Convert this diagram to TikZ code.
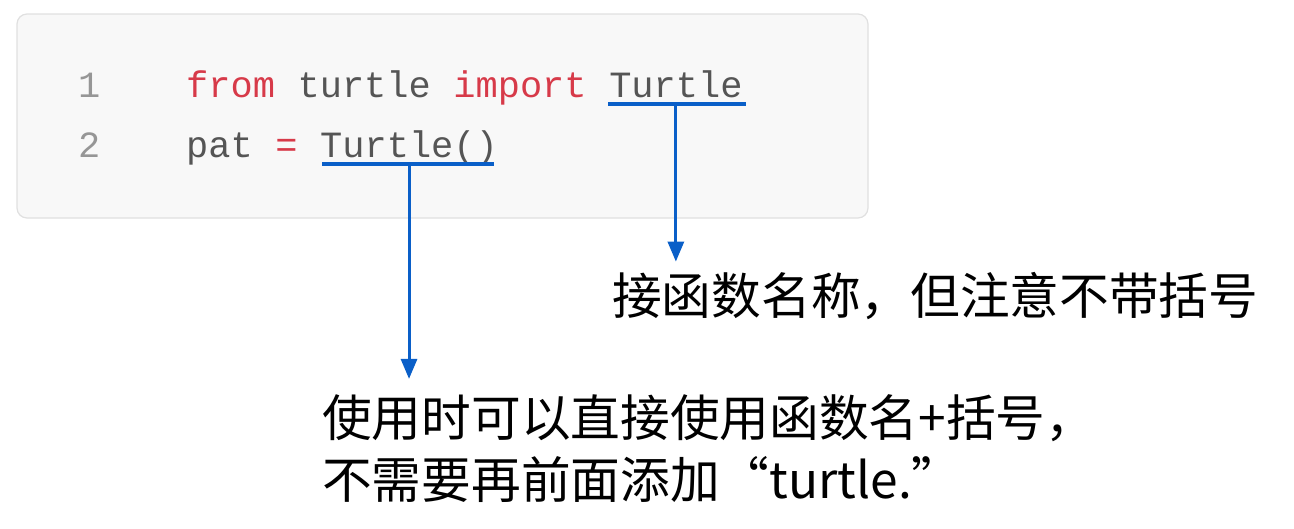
\documentclass[tikz,border=0pt]{standalone}
\usepackage{fontspec}
\setmonofont{Liberation Mono}
\newfontfamily\cjk{Noto Sans CJK SC}
\usetikzlibrary{positioning,arrows.meta}
\definecolor{codebg}{RGB}{248,248,248}
\definecolor{codeframe}{RGB}{224,224,224}
\definecolor{kwclr}{RGB}{215,58,73}
\definecolor{txtclr}{RGB}{85,85,85}
\definecolor{numclr}{RGB}{150,150,150}
\definecolor{markclr}{RGB}{10,95,200}
\tikzset{
  code/.style={inner sep=0pt,text height=28pt,text depth=7pt,
               font=\fontsize{37}{44}\selectfont\ttfamily,text=txtclr},
  kw/.style={code,text=kwclr},
  lineno/.style={code,text=numclr},
  ulmark/.style={draw=markclr,line width=4pt},
  pointer/.style={draw=markclr,line width=3pt,
                  -{Triangle[length=20pt,width=16pt]}},
  hint/.style={anchor=base west,inner sep=0pt,align=left,
               font=\fontsize{49.7}{62}\selectfont\cjk},
}

\begin{document}
\begin{tikzpicture}[x=1pt,y=-1pt]
\useasboundingbox (0,0) rectangle (1294,528);
\draw[fill=codebg,draw=codeframe,line width=1.2pt,rounded corners=10pt]
  (17,14) rectangle (868,218);

% line 1
\node[lineno,anchor=base west] (n1) at (78,97) {1};
\node[kw,anchor=base west] (from) at (186,97) {from};
\node[code,right=22.2pt of from] (mod) {turtle};
\node[kw,right=22.2pt of mod] (imp) {import};
\node[code,right=22.2pt of imp] (cls) {Turtle};
% line 2
\node[lineno,anchor=base west] (n2) at (78,157) {2};
\node[code,anchor=base west] (var) at (186,157) {pat};
\node[kw,right=22.2pt of var] (eq) {=};
\node[code,right=22.2pt of eq] (call) {Turtle()};

\draw[ulmark] ([xshift=-1pt]cls.south west) -- ([xshift=3pt]cls.south east);
\draw[ulmark] ([xshift=2pt]call.south west) -- ([xshift=-4pt]call.south east);

% notes
\node[hint] (h1) at (612,314) {接函数名称，但注意不带括号};
\node[hint] (h2) at (322,498) {使用时可以直接使用函数名+括号，\\不需要再前面添加“turtle.”};

\draw[pointer,shorten >=10pt] (cls.south) -- (cls.south |- h1.north);
\draw[pointer,shorten >=15pt] (call.south) -- (call.south |- h2.north);
\end{tikzpicture}
\end{document}
